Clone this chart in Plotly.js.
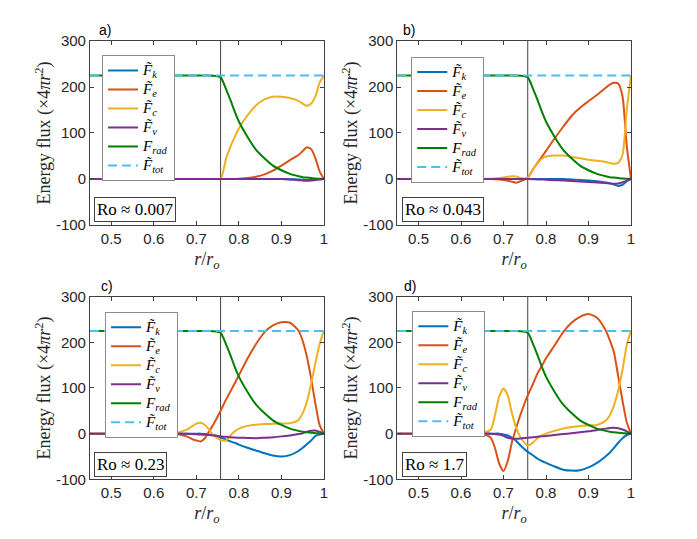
<!DOCTYPE html>
<html>
<head>
<meta charset="utf-8">
<script src="https://cdn.plot.ly/plotly-3.0.1.min.js"></script>
<style>
  html, body { margin: 0; padding: 0; background: #fff; }
  #chart { width: 697px; height: 539px; }
</style>
</head>
<body>
<div id="chart"></div>
<script>
// Energy flux balance, four rotation regimes --------------------------------

// ----- data -----
const R = [0.45, 0.60, 0.65, 0.67, 0.68, 0.69, 0.70, 0.71, 0.72, 0.73, 0.74, 0.757, 0.77, 0.78,
           0.79, 0.80, 0.82, 0.84, 0.86, 0.88, 0.90, 0.92, 0.94, 0.95, 0.96, 0.97, 0.98, 0.99, 1.00];

// radiative flux is the same profile in every panel
const FRAD = [225, 225, 225, 225, 225, 225, 225, 225, 225, 225, 224.5, 221, 195, 172,
              147, 125, 92, 64, 45, 29, 19, 11, 6, 4, 3, 2, 1, 0.5, 0];
const R_TOT = [0.45, 1.00];
const FTOT = [225, 225];
const R_CZ = 0.757;   // base of the convection zone

// a) Ro ~ 0.007
const FK_A = [0, 0, 0, 0, 0, 0, 0, 0, 0, 0, 0, 0, 0, 0, 0, 0, 0, 0, 0, 0, 0, -0.5, -1, -1.5, -2, -1.5, -1, -0.5, 0];
const FE_A = [0, 0, 0, 0, 0, 0, 0, 0, 0, 0, 0, 0, 0, 0, 0, 0.5, 2, 5, 10, 18, 29, 41, 52, 61, 69, 65, 45, 16, 0];
const FC_A = [0, 0, 0, 0, 0, 0, 0, 0, 0, 0, 0, 0, 45, 70, 91, 110, 138, 160, 173, 179, 179, 176, 170, 164, 159, 164, 180, 210, 225];
const FV_A = [0, 0, 0, 0, 0, 0, 0, 0, 0, 0, 0, 0, 0, 0, 0, 0, 0, 0, 0, 0, 0, -1, -2.5, -3.5, -4, -3.5, -2, -1, 0];

// b) Ro ~ 0.043
const FK_B = [0, 0, 0, 0, 0, 0, 0, 0, 0, 0, 0, 0, 0, 0, 0, 0, 0, 0, -1, -2, -3.5, -5, -7.5, -9, -12, -15, -13, -5, 0];
const FE_B = [0, 0, 0, 0, -0.5, -1, -2, -4, -6, -8, -5, 3, 22, 35, 48, 61, 88, 113, 137, 155, 169, 183, 198, 205, 209, 207, 180, 72, 0];
const FC_B = [0, 0, 0, 0.5, 1, 2, 3.5, 5, 6, 5.5, 2, 3, 22, 34, 44, 49, 51, 51, 48, 45, 42, 39.5, 37, 35, 33, 35, 52, 150, 225];
const FV_B = [0, 0, 0, 0, 0, 0, 0, 0, 0, 0, 0, 0, -0.5, -1, -1, -1.5, -2.5, -3.5, -4.5, -5.5, -6.5, -7.5, -9, -10, -10.5, -10, -7, -3.5, 0];

// c) Ro ~ 0.23
const FK_C = [0, 0, 0, 0, 0, 0, 0, 0, -1, -2, -3, -8, -13, -17, -20, -24, -31, -37, -43, -48, -50, -47, -38, -31, -23, -15, -5, -2, 0];
const FE_C = [0, 0, -1, -4, -7, -12, -15, -17, -10, 5, 20, 50, 75, 92, 110, 128, 164, 196, 222, 237, 244, 243, 226, 203, 168, 120, 65, 18, 0];
const FC_C = [0, 0.5, 1, 6, 10, 16, 22, 24, 19, 9, -3, -14, -15, -4, 5, 11, 17, 19.5, 21, 21.5, 22, 23, 30, 45, 70, 110, 155, 197, 226];
const FV_C = [0, 0, 0, 0, -0.5, -1, -1.5, -2, -2.5, -3, -4, -6, -7, -8, -8.5, -9, -9.5, -10, -9, -8, -6, -4, -1, 1, 4, 6.5, 7, 4, 0];

// d) Ro ~ 1.7
const FK_D = [0, 0, 0, 0, 0, 0, -2, -4, -9, -16, -26, -40, -48, -55, -60, -64, -72, -79, -81, -80, -74, -64, -50, -42, -31, -20, -10, -3, 0];
const FE_D = [0, 0, -1, -9, -32, -66, -82, -60, -18, 13, 42, 84, 110, 132, 148, 165, 193, 222, 243, 256, 262, 254, 227, 205, 178, 125, 72, 25, 0];
const FC_D = [0, 0, 2, 9, 41, 82, 99, 84, 44, 12, -8, -26, -19, -10, -4, 0, 6, 11, 14.5, 17, 18, 19, 28, 40, 62, 95, 140, 194, 226];
const FV_D = [0, 0, 0, 0, -1, -2, -5, -9, -11, -11, -10.5, -9, -8, -7, -6, -5, -3, -1, 1, 3, 5, 8, 11, 12.5, 13, 12, 9, 5, 0];

const PANEL_LABELS = ['a)', 'b)', 'c)', 'd)'];
const RO_LABELS = ['Ro ≈ 0.007', 'Ro ≈ 0.043', 'Ro ≈ 0.23', 'Ro ≈ 1.7'];
const X_TICKS = [0.5, 0.6, 0.7, 0.8, 0.9, 1];
const X_TICKTEXT = ['0.5', '0.6', '0.7', '0.8', '0.9', '1'];
const Y_TICKS = [-100, 0, 100, 200, 300];
const Y_TICKTEXT = ['-100', '0', '100', '200', '300'];

// legend rows are spaced by the (small) legend font; the label itself is drawn larger
const big = s => `<span style="font-size:15px">${s}</span>`;
const NAMES = {
    k: big('<i>F\u0303</i><sub><i>k</i></sub>'),
    e: big('<i>F\u0303</i><sub><i>e</i></sub>'),
    c: big('<i>F\u0303</i><sub><i>c</i></sub>'),
    v: big('<i>F\u0303</i><sub><i>v</i></sub>'),
    rad: big('<i>F</i><sub><i>rad</i></sub>'),
    tot: big('<i>F\u0303</i><sub><i>tot</i></sub>'),
};
const COLORS = {
    k: '#0072BD', e: '#D95319', c: '#EDB120', v: '#7E2F8E', rad: '#008000', tot: '#4DBEEE',
};

const SERIF = '"Liberation Serif", "DejaVu Serif", serif';
const SANS = '"Liberation Sans", Arial, sans-serif';
const AXIS_COLOR = '#404040';

// ----- geometry (paper fractions) -----
const colDom = [[0.1291, 0.4648], [0.5700, 0.9053]];
const rowDom = [[0.5826, 0.9239], [0.1108, 0.4495]];
const legendPos = [[0.1463, 0.898], [0.5900, 0.895], [0.1507, 0.4217], [0.5916, 0.4236]];
const roPos = [[0.1349, 0.5881], [0.5763, 0.5881], [0.1353, 0.1145], [0.5763, 0.1150]];
const labelPos = [[0.139, 0.926], [0.575, 0.926], [0.142, 0.451], [0.577, 0.451]];

const panels = [
    { k: FK_A, e: FE_A, c: FC_A, v: FV_A },
    { k: FK_B, e: FE_B, c: FC_B, v: FV_B },
    { k: FK_C, e: FE_C, c: FC_C, v: FV_C },
    { k: FK_D, e: FE_D, c: FC_D, v: FV_D },
];

const traces = [];
const layout = {
    width: 697, height: 539,
    margin: { l: 0, r: 0, t: 0, b: 0 },
    paper_bgcolor: '#fff', plot_bgcolor: '#fff',
    font: { family: SANS, color: '#262626' },
    shapes: [], annotations: [],
};

panels.forEach((p, i) => {
    const n = i + 1;
    const xa = n === 1 ? 'x' : 'x' + n;
    const ya = n === 1 ? 'y' : 'y' + n;
    const leg = n === 1 ? 'legend' : 'legend' + n;
    const line = key => ({ color: COLORS[key], width: 2, shape: 'spline', smoothing: 0.6 });

    ['k', 'e', 'c', 'v'].forEach(key => {
        traces.push({ type: 'scatter', mode: 'lines', x: R, y: p[key], name: NAMES[key],
            xaxis: xa, yaxis: ya, legend: leg, line: line(key), hoverinfo: 'skip' });
    });
    traces.push({ type: 'scatter', mode: 'lines', x: R, y: FRAD, name: NAMES.rad,
        xaxis: xa, yaxis: ya, legend: leg, line: line('rad'), hoverinfo: 'skip' });
    traces.push({ type: 'scatter', mode: 'lines', x: R_TOT, y: FTOT, name: NAMES.tot,
        xaxis: xa, yaxis: ya, legend: leg, line: { color: COLORS.tot, width: 2, dash: '9px,5px' }, hoverinfo: 'skip' });

    const axisCommon = {
        ticks: 'inside', ticklen: 4, tickcolor: AXIS_COLOR, tickwidth: 1,
        showline: true, linecolor: AXIS_COLOR, linewidth: 1, mirror: 'ticks',
        showgrid: false, zeroline: false, fixedrange: true,
        tickfont: { family: SANS, size: 15, color: '#262626' },
    };
    layout[xa === 'x' ? 'xaxis' : 'xaxis' + n] = {
        ...axisCommon, domain: colDom[i % 2], anchor: ya, range: [0.45, 1],
        tickmode: 'array', tickvals: X_TICKS, ticktext: X_TICKTEXT,
        title: { text: '<i>r</i>/<i>r</i><sub><i>o</i></sub>', font: { family: SERIF, size: 18, color: '#262626' }, standoff: 6 },
    };
    layout[ya === 'y' ? 'yaxis' : 'yaxis' + n] = {
        ...axisCommon, domain: rowDom[Math.floor(i / 2)], anchor: xa, range: [-100, 300],
        tickmode: 'array', tickvals: Y_TICKS, ticktext: Y_TICKTEXT,
        title: { text: 'Energy flux (×4<i>πr</i><sup>2</sup>)', font: { family: SERIF, size: 18, color: '#262626' }, standoff: 0 },
    };
    layout[leg] = {
        x: legendPos[i][0], y: legendPos[i][1], xanchor: 'left', yanchor: 'top',
        bgcolor: '#fff', bordercolor: '#8c8c8c', borderwidth: 1,
        font: { family: SERIF, size: 11.3, color: '#000' },
        itemwidth: 30, tracegroupgap: 0, traceorder: 'normal',
    };
    layout.shapes.push({
        type: 'line', xref: xa, yref: ya + ' domain', x0: R_CZ, x1: R_CZ, y0: 0, y1: 1,
        line: { color: AXIS_COLOR, width: 1 }, layer: 'below',
    });
    layout.annotations.push({
        xref: 'paper', yref: 'paper', x: roPos[i][0], y: roPos[i][1], xanchor: 'left', yanchor: 'bottom',
        text: RO_LABELS[i], showarrow: false, bgcolor: '#fff', bordercolor: AXIS_COLOR, borderwidth: 1, borderpad: 2,
        font: { family: SERIF, size: 17, color: '#000' },
    });
    layout.annotations.push({
        xref: 'paper', yref: 'paper', x: labelPos[i][0], y: labelPos[i][1], xanchor: 'left', yanchor: 'bottom',
        text: PANEL_LABELS[i], showarrow: false, font: { family: SANS, size: 14, color: '#000' },
    });
});

Plotly.newPlot('chart', traces, layout, { displayModeBar: false, staticPlot: true });
</script>
</body>
</html>
